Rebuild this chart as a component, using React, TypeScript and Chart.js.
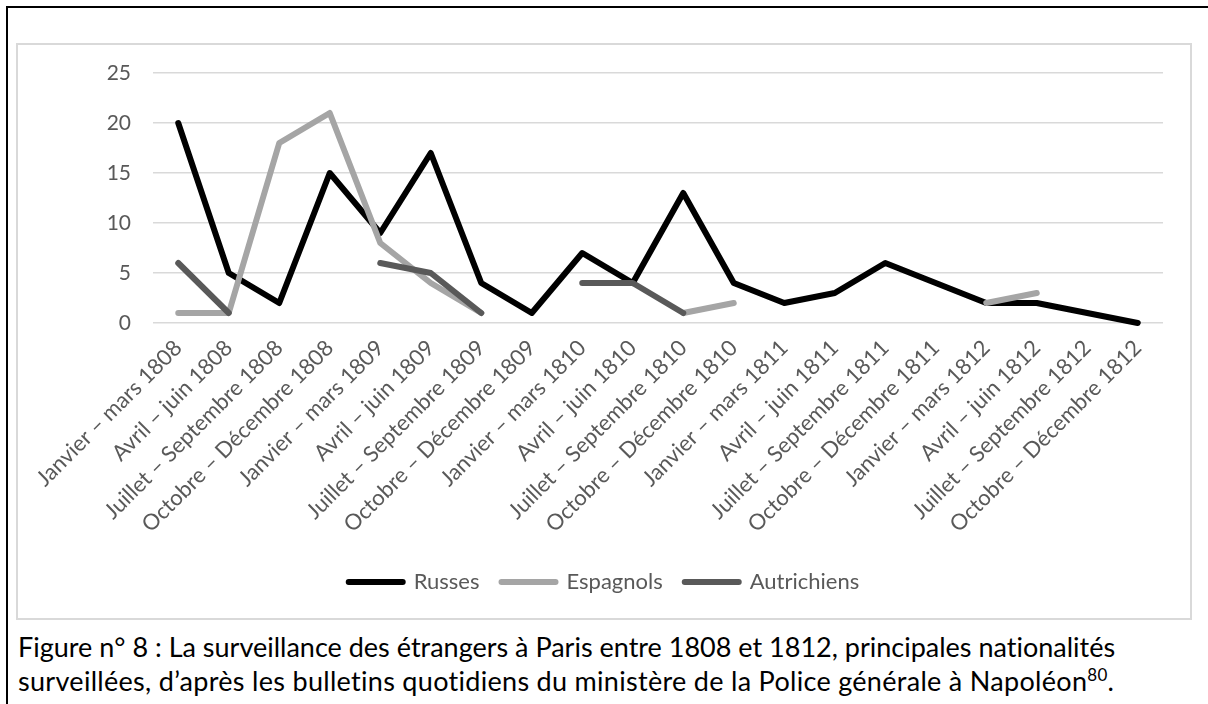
import React, { useEffect, useRef } from "react";
import { Chart, registerables } from "chart.js";

Chart.register(...registerables);

const categories = [
  "Janvier – mars 1808",
  "Avril – juin 1808",
  "Juillet – Septembre 1808",
  "Octobre – Décembre 1808",
  "Janvier – mars 1809",
  "Avril – juin 1809",
  "Juillet – Septembre 1809",
  "Octobre – Décembre 1809",
  "Janvier – mars 1810",
  "Avril – juin 1810",
  "Juillet – Septembre 1810",
  "Octobre – Décembre 1810",
  "Janvier – mars 1811",
  "Avril – juin 1811",
  "Juillet – Septembre 1811",
  "Octobre – Décembre 1811",
  "Janvier – mars 1812",
  "Avril – juin 1812",
  "Juillet – Septembre 1812",
  "Octobre – Décembre 1812",
];

const russes = [20, 5, 2, 15, 9, 17, 4, 1, 7, 4, 13, 4, 2, 3, 6, 4, 2, 2, 1, 0];
const espagnols = [1, 1, 18, 21, 8, 4, 1, null, null, null, 1, 2, null, null, null, null, 2, 3, null, null];
const autrichiens = [6, 1, null, null, 6, 5, 1, null, 4, 4, 1, null, null, null, null, null, null, null, null, null];

const yMin = 0;
const yMax = 25;
const yStep = 5;

const FONT = "Lato";
const TICK_COLOR = "#595959";

export default function App() {
  const ref = useRef<HTMLCanvasElement>(null);

  useEffect(() => {
    if (!ref.current) return;
    const common = {
      borderWidth: 6,
      pointRadius: 0,
      pointHoverRadius: 0,
      tension: 0,
      fill: false,
      spanGaps: false,
      borderCapStyle: "round" as const,
      borderJoinStyle: "round" as const,
      clip: 10,
    };
    const chart = new Chart(ref.current, {
      type: "line",
      data: {
        labels: categories,
        datasets: [
          { label: "Autrichiens", data: autrichiens, borderColor: "#595959", backgroundColor: "#595959", ...common },
          { label: "Espagnols", data: espagnols, borderColor: "#a5a5a5", backgroundColor: "#a5a5a5", ...common },
          { label: "Russes", data: russes, borderColor: "#000000", backgroundColor: "#000000", ...common },
        ],
      },
      options: {
        responsive: false,
        animation: false,
        layout: { padding: { left: 0, right: 0, top: 30, bottom: 17 } },
        plugins: {
          legend: {
            position: "bottom",
            reverse: true,
            labels: {
              boxWidth: 54,
              boxHeight: 0,
              padding: 22,
              color: TICK_COLOR,
              font: { family: FONT, size: 22 },
            },
          },
          tooltip: { enabled: false },
        },
        scales: {
          x: {
            offset: true,
            grid: { display: false },
            border: { display: false },
            ticks: {
              autoSkip: false,
              maxRotation: 45,
              minRotation: 45,
              color: TICK_COLOR,
              font: { family: FONT, size: 22 },
              padding: 4,
            },
            afterFit: (s: any) => {
              s.height = 226;
              s.paddingLeft = 0;
              s.paddingRight = 0;
            },
          },
          y: {
            min: yMin,
            max: yMax,
            ticks: {
              stepSize: yStep,
              color: TICK_COLOR,
              font: { family: FONT, size: 21 },
              padding: 22,
            },
            grid: { color: "#d9d9d9", lineWidth: 1.5, drawTicks: false },
            border: { display: false },
            afterFit: (s: any) => {
              s.width = 137;
              s.paddingTop = 0;
              s.paddingBottom = 0;
            },
          },
          y2: {
            type: "linear",
            position: "right",
            display: true,
            grid: { display: false, drawTicks: false },
            border: { display: false },
            ticks: { display: false },
            afterFit: (s: any) => {
              s.width = 29;
              s.paddingTop = 0;
              s.paddingBottom = 0;
            },
          },
        },
      },
    });
    return () => chart.destroy();
  }, []);

  return (
    <div
      style={{
        position: "absolute",
        left: 0,
        top: 0,
        width: 1208,
        height: 704,
        overflow: "hidden",
        background: "#ffffff",
      }}
    >
      <div
        style={{
          position: "absolute",
          left: 6,
          top: 6,
          width: 1300,
          height: 800,
          borderLeft: "2px solid #000",
          borderTop: "2px solid #000",
        }}
      />
      <canvas
        ref={ref}
        width={1176}
        height={577}
        style={{ position: "absolute", left: 16, top: 43, width: 1176, height: 577 }}
      />
      <div
        style={{
          position: "absolute",
          left: 16,
          top: 43,
          width: 1176,
          height: 577,
          boxSizing: "border-box",
          border: "2px solid #d9d9d9",
          pointerEvents: "none",
        }}
      />
      <div
        style={{
          position: "absolute",
          left: 18,
          top: 630,
          fontFamily: FONT,
          fontSize: 27,
          lineHeight: "34px",
          color: "#000",
          whiteSpace: "nowrap",
          fontVariantLigatures: "none",
        }}
      >
        <div>Figure n° 8 : La surveillance des étrangers à Paris entre 1808 et 1812, principales nationalités</div>
        <div style={{ letterSpacing: "0.3px" }}>
          surveillées, d’après les bulletins quotidiens du ministère de la Police générale à Napoléon
          <sup style={{ fontSize: 17, lineHeight: 0, verticalAlign: "super" }}>80</sup>.
        </div>
      </div>
    </div>
  );
}
